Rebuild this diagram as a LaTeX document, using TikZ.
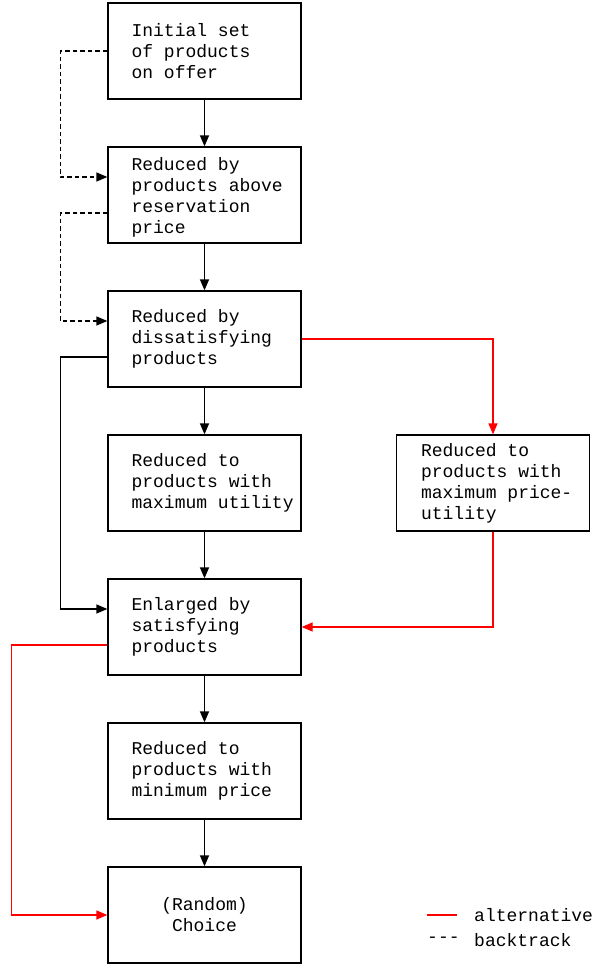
\documentclass[tikz,border=0pt]{standalone}
\usepackage{fontspec}
\setmainfont{Liberation Mono}
\usetikzlibrary{arrows.meta}
\tikzset{
  box/.style={draw, line width=1.3pt, minimum width=193pt, minimum height=96pt, inner sep=0pt},
  txt/.style={align=left, inner sep=0pt, font=\fontsize{18}{21}\selectfont, anchor=west},
  flow/.style={line width=1.3pt, -{Triangle[length=11pt,width=9pt]}},
  back/.style={flow, dash pattern=on 4.5pt off 3pt},
  alt/.style={flow, red},
}
\begin{document}
\begin{tikzpicture}[x=1pt,y=-1pt]
\useasboundingbox (0,0) rectangle (593,964);
\node[box] (b1) at (204.5,51) {};
\node[box] (b2) at (204.5,195) {};
\node[box] (b3) at (204.5,339) {};
\node[box] (b4) at (204.5,483) {};
\node[box] (b5) at (204.5,627) {};
\node[box] (b6) at (204.5,771) {};
\node[box, align=center, font=\fontsize{18}{21}\selectfont] (b7) at (204.5,915) {(Random)\\Choice};
\node[box] (r4) at (493,483) {};
\node[txt] (t1) at ([xshift=24pt]b1.west) {Initial set\\of products\\on offer};
\node[txt] (t2) at ([xshift=24pt,yshift=-2pt]b2.west) {Reduced by\\products above\\reservation\\price};
\node[txt] (t3) at ([xshift=24pt]b3.west) {Reduced by\\dissatisfying\\products};
\node[txt] (t4) at ([xshift=24pt]b4.west) {Reduced to\\products with\\maximum utility};
\node[txt] (t5) at ([xshift=24pt]b5.west) {Enlarged by\\satisfying\\products};
\node[txt] (t6) at ([xshift=24pt]b6.west) {Reduced to\\products with\\minimum price};
\node[txt] (tr) at ([xshift=25pt]r4.west) {Reduced to\\products with\\maximum price-\\utility};
% main flow
\draw[flow] (b1) -- (b2);
\draw[flow] (b2) -- (b3);
\draw[flow] (b3) -- (b4);
\draw[flow] (b4) -- (b5);
\draw[flow] (b5) -- (b6);
\draw[flow] (b6) -- (b7);
% backtrack
\draw[back] (b1.west) -- ++(-47,0) |- ([yshift=18pt]b2.west);
\draw[back] ([yshift=-18pt]b2.west) -- ++(-47,0) |- ([yshift=18pt]b3.west);
% skip
\draw[flow] ([yshift=-18pt]b3.west) -- ++(-47,0) |- ([yshift=18pt]b5.west);
% alternatives
\draw[alt] (b3.east) -| (r4.north);
\draw[alt] (r4.south) |- (b5.east);
\draw[alt] ([yshift=-18pt]b5.west) -- ++(-96,0) |- (b7.west);
% legend
\coordinate (l1) at (427,915);
\coordinate (l2) at (457,915);
\draw[red, line width=1.3pt] (l1) -- (l2);
\node[txt] (la) at (474,915) {alternative};
\node[txt] (ld) at (427,940) {-{}-{}-};
\node[txt] (lb) at (474,940) {backtrack};
\end{tikzpicture}
\end{document}
